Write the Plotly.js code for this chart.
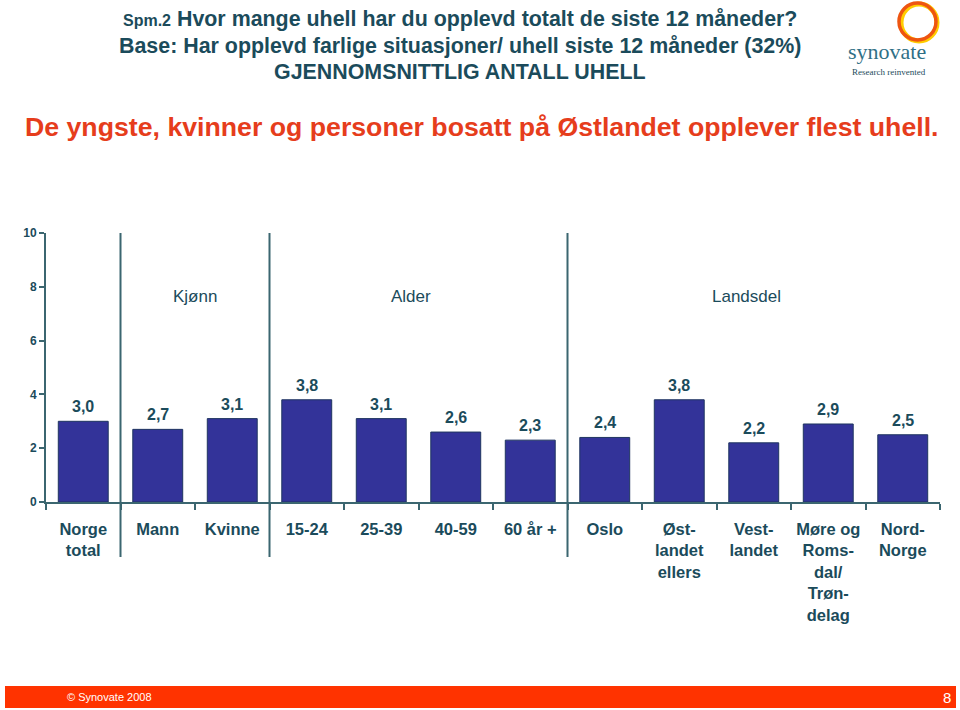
<!DOCTYPE html>
<html>
<head>
<meta charset="utf-8">
<script src="https://cdn.plot.ly/plotly-3.0.1.min.js"></script>
<style>html,body{margin:0;padding:0;background:#fff;}#chart{width:960px;height:710px;}</style>
</head>
<body>
<div id="chart"></div>
<script>
// ---- data ----
const categories = ["Norge<br>total","Mann","Kvinne","15-24","25-39","40-59","60 år +","Oslo","Øst-<br>landet<br>ellers","Vest-<br>landet","Møre og<br>Roms-<br>dal/<br>Trøn-<br>delag","Nord-<br>Norge"];
const values = [3.0,2.7,3.1,3.8,3.1,2.6,2.3,2.4,3.8,2.2,2.9,2.5];
const valueLabels = ["3,0","2,7","3,1","3,8","3,1","2,6","2,3","2,4","3,8","2,2","2,9","2,5"];
const groupNames = ["Kjønn","Alder","Landsdel"];
const groupCenters = [1.5, 4.4, 8.9];
const dividers = [0.5, 2.5, 6.5];
const yTicks = [0,2,4,6,8,10];

// ---- layout helpers (pixel -> paper) ----
const L = 46, R = 20, T = 233, B = 208, W = 960, H = 710;
const pw = W - L - R, ph = H - T - B;
const px = x => (x - L) / pw;
const py = y => (H - B - y) / ph;

const teal = "#1b4b5b";
const axisCol = "#3b6670";
const font = "Liberation Sans, Arial, sans-serif";

const annotations = [];
function note(x, y, text, f, xanchor) {
  annotations.push({x: px(x), y: py(y), xref: "paper", yref: "paper", showarrow: false,
    xanchor: xanchor || "center", yanchor: "middle", text: text, font: f});
}
values.forEach((v, i) => {
  annotations.push({x: i, y: v, xref: "x", yref: "y", text: valueLabels[i], showarrow: false,
    xanchor: "center", yanchor: "bottom", yshift: 4, font: {family: font, size: 16, color: teal, weight: "bold"}});
});
groupNames.forEach((g, i) => {
  annotations.push({x: groupCenters[i], y: 7.65, xref: "x", yref: "y", text: g, showarrow: false,
    xanchor: "center", yanchor: "middle", font: {family: font, size: 17, color: teal}});
});
// titles
note(460, 19, '<span style="font-size:16px">Spm.2</span> Hvor mange uhell har du opplevd totalt de siste 12 måneder?',
  {family: font, size: 21.4, color: teal, weight: "bold"});
note(460, 46, 'Base: Har opplevd farlige situasjoner/ uhell siste 12 måneder (32%)',
  {family: font, size: 21.4, color: teal, weight: "bold"});
note(460, 72, 'GJENNOMSNITTLIG ANTALL UHELL',
  {family: font, size: 21.4, color: teal, weight: "bold"});
note(482, 127, 'De yngste, kvinner og personer bosatt på Østlandet opplever flest uhell.',
  {family: font, size: 26.7, color: "#e63d1c", weight: "bold"});
// logo text
note(887, 52, 'synovate', {family: "Liberation Serif, DejaVu Serif, serif", size: 22, color: "#2f6f86"});
note(889, 72, 'Research reinvented', {family: "Liberation Serif, DejaVu Serif, serif", size: 9, color: "#1b4b5b"});
// footer text
note(65, 697, '© Synovate 2008', {family: font, size: 11, color: "#ffffff"}, "left");
note(953, 697, '8', {family: font, size: 15, color: "#ffffff"}, "right");

const shapes = [];
dividers.forEach(d => {
  shapes.push({type: "line", xref: "x", yref: "paper", x0: d, x1: d, y0: py(557), y1: 1,
    line: {color: axisCol, width: 2}});
});
// footer bar
shapes.push({type: "rect", xref: "paper", yref: "paper", x0: px(5), x1: px(956), y0: py(686), y1: py(708),
  line: {width: 0}, fillcolor: "#ff3300", layer: "below"});
// logo rings
shapes.push({type: "circle", xref: "paper", yref: "paper", x0: px(901), x1: px(937), y0: py(41), y1: py(4),
  line: {color: "#ffcc00", width: 5}});
shapes.push({type: "circle", xref: "paper", yref: "paper", x0: px(899), x1: px(936), y0: py(40), y1: py(3),
  line: {color: "#ee5511", width: 3.5}});

const trace = {
  type: "bar", x: categories, y: values,
  marker: {color: "#333399", line: {color: "#1f3560", width: 1}},
  hoverinfo: "skip"
};

const layout = {
  width: W, height: H,
  margin: {l: L, r: R, t: T, b: B, pad: 0},
  paper_bgcolor: "#ffffff", plot_bgcolor: "#ffffff",
  showlegend: false, bargap: 0.33,
  font: {family: font, color: teal},
  xaxis: {type: "category", showline: true, linecolor: axisCol, linewidth: 2,
    ticks: "outside", tickson: "boundaries", ticklen: 6, tickcolor: axisCol, tickwidth: 2,
    ticklabelstandoff: 11,
    tickfont: {family: font, size: 16.5, color: teal, weight: "bold"},
    showgrid: false, zeroline: false, fixedrange: true},
  yaxis: {range: [0, 10], tickvals: yTicks, showline: true, linecolor: axisCol, linewidth: 2,
    ticks: "outside", ticklen: 5, tickcolor: axisCol, tickwidth: 2,
    tickfont: {family: font, size: 12, color: teal, weight: "bold"},
    showgrid: false, zeroline: false, fixedrange: true},
  annotations: annotations, shapes: shapes
};

Plotly.newPlot("chart", [trace], layout, {displayModeBar: false, staticPlot: true});
</script>
</body>
</html>
